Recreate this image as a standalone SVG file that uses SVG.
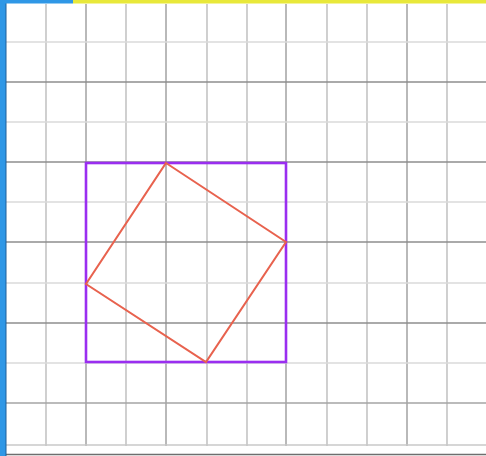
<svg xmlns="http://www.w3.org/2000/svg" width="486" height="456" viewBox="0 0 486 456">
<style>
.v{stroke:#c4c4c4;stroke-width:1.6}
.vd{stroke:#a8a8a8;stroke-width:1.6}
.hl{stroke:#dadada;stroke-width:1.6}
.hd{stroke:#8e8e8e;stroke-width:1.6}
</style>
<rect x="0" y="0" width="486" height="456" fill="#ffffff"/>
<g id="grid">
<line class="v" x1="46" y1="4" x2="46" y2="446"/>
<line class="vd" x1="86" y1="4" x2="86" y2="446"/>
<line class="v" x1="126" y1="4" x2="126" y2="446"/>
<line class="vd" x1="166" y1="4" x2="166" y2="446"/>
<line class="v" x1="207" y1="4" x2="207" y2="446"/>
<line class="v" x1="247" y1="4" x2="247" y2="446"/>
<line class="vd" x1="286" y1="4" x2="286" y2="446"/>
<line class="v" x1="327" y1="4" x2="327" y2="446"/>
<line class="v" x1="367" y1="4" x2="367" y2="446"/>
<line class="vd" x1="407" y1="4" x2="407" y2="446"/>
<line class="v" x1="447" y1="4" x2="447" y2="446"/>
<line class="hl" x1="6" y1="42" x2="486" y2="42"/>
<line class="hd" x1="6" y1="82" x2="486" y2="82"/>
<line class="hl" x1="6" y1="122" x2="486" y2="122"/>
<line class="hd" x1="6" y1="162" x2="486" y2="162"/>
<line class="hl" x1="6" y1="202" x2="486" y2="202"/>
<line class="hd" x1="6" y1="242" x2="486" y2="242"/>
<line class="hl" x1="6" y1="283" x2="486" y2="283"/>
<line class="hd" x1="6" y1="323" x2="486" y2="323"/>
<line class="hl" x1="6" y1="363" x2="486" y2="363"/>
<line class="hd" x1="6" y1="403" x2="486" y2="403" style="stroke:#a4a4a4"/>
<line class="hl" x1="6" y1="445" x2="486" y2="445" style="stroke:#c8c8c8"/>
<line x1="6" y1="454.5" x2="486" y2="454.5" stroke="#6e6e6e" stroke-width="1.6"/>
</g>
<g id="frame">
<rect x="0" y="0" width="6" height="456" fill="#2f97e6"/>
<line x1="6" y1="0" x2="6" y2="456" stroke="#1e5f9a" stroke-width="1"/>
<rect x="0" y="0" width="73" height="3.5" fill="#2f97e6"/>
<rect x="73" y="0" width="413" height="3.5" fill="#e8e83a"/>
</g>
<g id="square">
<rect x="86" y="163" width="200" height="199" fill="none" stroke="#9a2ef0" stroke-width="2.6"/>
</g>
<g id="tilted">
<polygon points="166,163 286,242 206,362 86,284" fill="none" stroke="#e8624e" stroke-width="2"/>
</g>
</svg>
